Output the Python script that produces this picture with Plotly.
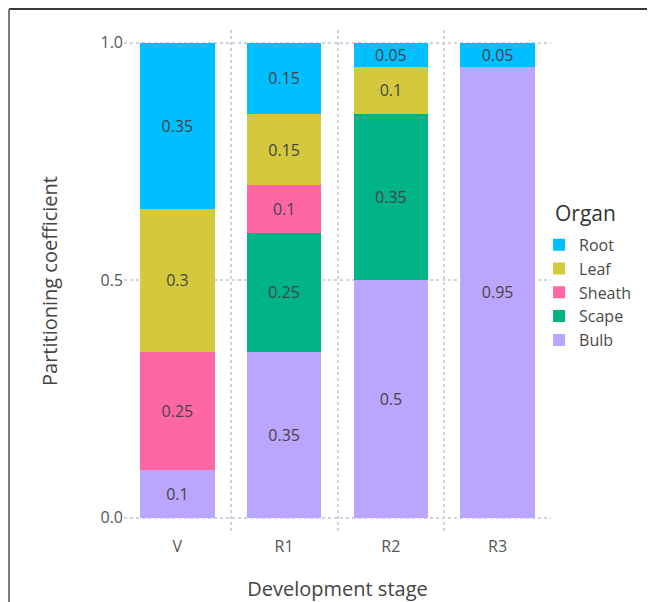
import plotly.graph_objects as go

stages = ["V", "R1", "R2", "R3"]
organs = ["Bulb", "Scape", "Sheath", "Leaf", "Root"]
bulb = [0.1, 0.35, 0.5, 0.95]
scape = [None, 0.25, 0.35, None]
sheath = [0.25, 0.1, None, None]
leaf = [0.3, 0.15, 0.1, None]
root = [0.35, 0.15, 0.05, 0.05]
values = {"Bulb": bulb, "Scape": scape, "Sheath": sheath, "Leaf": leaf, "Root": root}
colors = {"Bulb": "#BBA6FF", "Scape": "#00B487", "Sheath": "#FF67A4",
          "Leaf": "#D4C83C", "Root": "#00BFFF"}
ytick_vals = [0.0, 0.5, 1.0]
ytick_text = ["0.0", "0.5", "1.0"]

FONT = "Open Sans"
TXT = "#4a4a4a"

fig = go.Figure()
for o in organs:
    v = values[o]
    fig.add_trace(go.Bar(
        x=stages, y=v, name=o, marker=dict(color=colors[o], line=dict(width=0)),
        text=[("" if val is None else f"{val:g}") for val in v],
        textposition="inside", insidetextanchor="middle", textangle=0,
        constraintext="none",
        textfont=dict(family=FONT, size=16, color="#444444"),
        width=0.7, hoverinfo="skip",
    ))

grid_col = "#cfd0e0"
L, R, T, B = 116, 104, 22, 70
W, H = 647, 594
PW, PH = W - L - R, H - T - B
fig.update_layout(
    barmode="stack",
    width=W, height=H,
    margin=dict(l=L, r=R, t=T, b=B, autoexpand=False),
    paper_bgcolor="white", plot_bgcolor="white",
    font=dict(family=FONT, color=TXT),
    showlegend=True,
    legend=dict(
        traceorder="reversed",
        font=dict(family=FONT, size=16, color=TXT),
        x=0.972, xanchor="left", y=0.606, yanchor="top",
        bgcolor="rgba(0,0,0,0)",
    ),
    xaxis=dict(
        title=dict(text="Development stage", font=dict(family=FONT, size=20, color="#444444"), standoff=30),
        tickson="boundaries", ticks="", showgrid=True,
        gridcolor=grid_col, griddash="dot", gridwidth=1.5,
        tickfont=dict(family=FONT, size=16, color="#555555"),
        ticklabelstandoff=3,
        range=[-0.5, 3.5], showline=False, zeroline=False, automargin=False,
    ),
    yaxis=dict(
        title=dict(text="Partitioning coefficient", font=dict(family=FONT, size=20, color="#444444"), standoff=37),
        range=[-0.03, 1.027], tickvals=ytick_vals, ticktext=ytick_text,
        showgrid=True, gridcolor=grid_col, griddash="dot", gridwidth=1.5,
        tickfont=dict(family=FONT, size=16, color="#555555"),
        zeroline=False, showline=False, ticks="", automargin=False,
    ),
    annotations=[dict(text="Organ", xref="paper", yref="paper", x=1.005, y=0.635,
                      xanchor="left", yanchor="middle", showarrow=False,
                      font=dict(family=FONT, size=21, color="#333333"))],
)

# frame lines of the original image (top and left edges)
fx = (1 - L) / PW
fy = (H - B - 1) / PH
fig.add_shape(type="line", xref="paper", yref="paper", x0=fx, x1=(W - L) / PW, y0=fy, y1=fy,
              line=dict(color="#3a3a3a", width=2))
fig.add_shape(type="line", xref="paper", yref="paper", x0=fx, x1=fx, y0=-B / PH, y1=fy,
              line=dict(color="#7a7a7a", width=2))

fig.write_html("out.html")
